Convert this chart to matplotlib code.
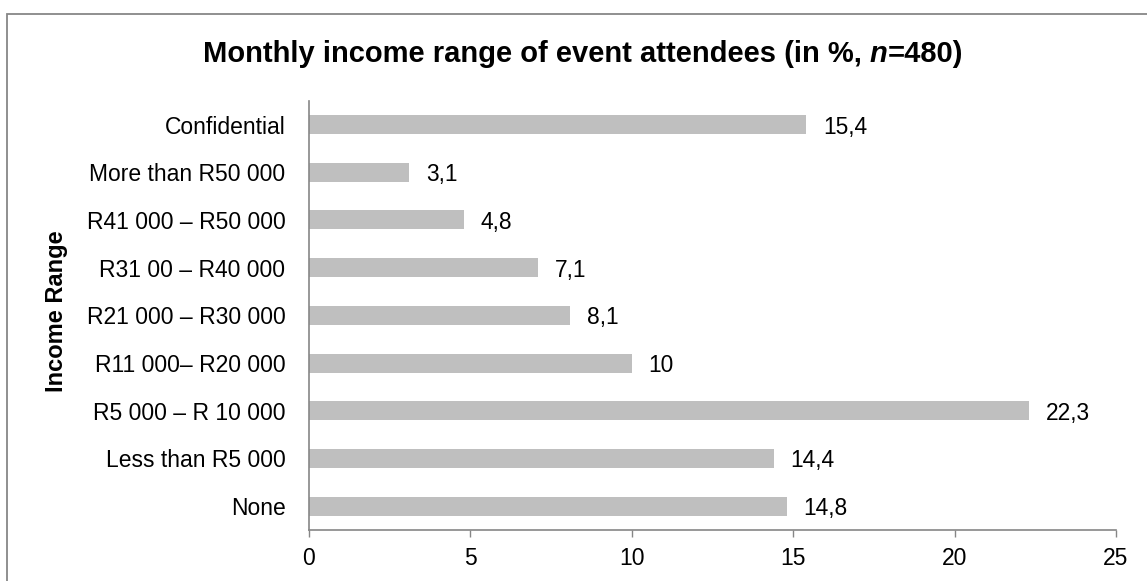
import matplotlib.pyplot as plt
from matplotlib.patches import Rectangle

categories = ["None", "Less than R5 000", "R5 000 \u2013 R 10 000", "R11 000\u2013 R20 000",
              "R21 000 \u2013 R30 000", "R31 00 \u2013 R40 000", "R41 000 \u2013 R50 000",
              "More than R50 000", "Confidential"]
values = [14.8, 14.4, 22.3, 10, 8.1, 7.1, 4.8, 3.1, 15.4]
xticks = [0, 5, 10, 15, 20, 25]

plt.rcParams['font.family'] = ['Liberation Sans', 'DejaVu Sans']

W, H = 1147, 581
fig = plt.figure(figsize=(W / 100, H / 100), dpi=100)
ax = fig.add_axes([309 / W, 1 - 530 / H, (1116 - 309) / W, (530 - 100.7) / H])

pos = range(len(categories))
ax.barh(pos, values, height=0.4, color='#bfbfbf')
for y, v in zip(pos, values):
    ax.annotate(f"{v:g}".replace('.', ','), (v, y), xytext=(12, 0), textcoords='offset points',
                va='center_baseline', ha='left', fontsize=16.4)

ax.set_xlim(0, 25)
ax.set_ylim(-0.5, len(categories) - 0.5)
ax.set_xticks(xticks)
ax.set_yticks(list(pos))
ax.set_yticklabels(categories)
ax.tick_params(axis='y', length=0, pad=17, labelsize=16.5)
ax.tick_params(axis='x', length=5, width=1, color='#868686', pad=7, labelsize=16.5)
for s in ['top', 'right']:
    ax.spines[s].set_visible(False)
for s in ['left', 'bottom']:
    ax.spines[s].set_color('#868686')
    ax.spines[s].set_linewidth(1.2)

fig.text(57 / W, 1 - 311 / H, "Income Range", rotation=90, ha='center', va='center',
         fontsize=17, fontweight='bold')

# title with italic n
fig.canvas.draw()
r = fig.canvas.get_renderer()
ty = 1 - 61.5 / H
parts = [("Monthly income range of event attendees (in %, ", 'normal'),
         ("n", 'italic'), ("=480)", 'normal')]
texts = []
for s, st in parts:
    texts.append(fig.text(0, ty, s, fontsize=21, fontweight='bold', style=st, va='baseline'))
widths = [t.get_window_extent(r).width for t in texts]
x = 583 - sum(widths) / 2
for t, w in zip(texts, widths):
    t.set_x(x / W)
    x += w

fig.patches.append(Rectangle((7 / W, -0.05), 1.1, 1.05 - 13.5 / H,
                             transform=fig.transFigure, fill=False, edgecolor='#878787', linewidth=1.3))

fig.savefig("out.png", dpi=100)
